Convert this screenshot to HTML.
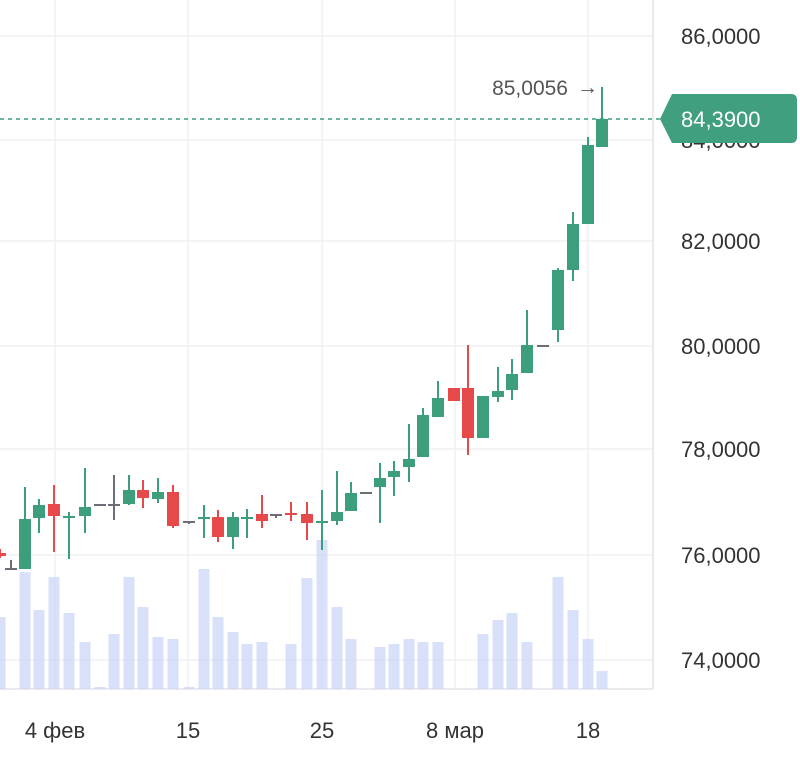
<!DOCTYPE html>
<html><head><meta charset="utf-8"><style>
html,body{margin:0;padding:0;background:#fff}
svg{display:block}
text{font-family:"Liberation Sans",sans-serif}
</style></head><body>
<svg width="800" height="769" viewBox="0 0 800 769" xmlns="http://www.w3.org/2000/svg">
<g stroke="#f0f0f3" stroke-width="1.5">
<line x1="0" y1="36" x2="653" y2="36"/><line x1="0" y1="140" x2="653" y2="140"/>
<line x1="0" y1="241" x2="653" y2="241"/><line x1="0" y1="346" x2="653" y2="346"/>
<line x1="0" y1="449" x2="653" y2="449"/><line x1="0" y1="555" x2="653" y2="555"/>
<line x1="0" y1="660" x2="653" y2="660"/>
<line x1="55" y1="0" x2="55" y2="689"/><line x1="188" y1="0" x2="188" y2="689"/>
<line x1="322" y1="0" x2="322" y2="689"/><line x1="455" y1="0" x2="455" y2="689"/>
<line x1="588" y1="0" x2="588" y2="689"/>
</g>
<line x1="653" y1="0" x2="653" y2="689" stroke="#e4e4e8" stroke-width="1.5"/>
<line x1="0" y1="689" x2="653" y2="689" stroke="#e4e4e8" stroke-width="1.5"/>
<g fill="#c9d3f8" fill-opacity="0.7" id="vol"></g>
<g id="c"></g>
<line x1="0" y1="119" x2="660" y2="119" stroke="#3f9f7e" stroke-width="1.5" stroke-dasharray="4,4"/>
<text x="568" y="95" font-size="21" fill="#555" text-anchor="end">85,0056</text>
<text x="598" y="94" font-size="21" fill="#555" text-anchor="end">→</text>
<g font-size="22" fill="#333">
<text x="681" y="44">86,0000</text><text x="681" y="148">84,0000</text>
<text x="681" y="249">82,0000</text><text x="681" y="354">80,0000</text>
<text x="681" y="457">78,0000</text><text x="681" y="563">76,0000</text>
<text x="681" y="668">74,0000</text>
</g>
<path d="M660,119 L672,94 L791,94 Q797,94 797,100 L797,137 Q797,143 791,143 L672,143 Z" fill="#3f9f7e"/>
<text x="681" y="127" font-size="22" fill="#fff">84,3900</text>
<g font-size="22" fill="#333" text-anchor="middle">
<text x="55" y="738">4 фев</text><text x="188" y="738">15</text><text x="322" y="738">25</text>
<text x="455" y="738">8 мар</text><text x="588" y="738">18</text>
</g>
</svg>
<script>
const NS="http://www.w3.org/2000/svg";
const vols=[[0,617],[25,572],[39,610],[54,577],[69,613],[85,642],[100,687],[114,634],[129,577],[143,607],[158,637],[173,639],[189,687],[204,569],[218,617],[233,632],[247,644],[262,642],[291,644],[307,578],[322,540],[337,607],[351,639],[380,647],[394,644],[409,639],[423,642],[438,642],[483,634],[498,620],[512,613],[527,642],[558,577],[573,610],[588,639],[602,671]];
const vg=document.getElementById('vol');
vols.forEach(([x,t])=>{const r=document.createElementNS(NS,'rect');r.setAttribute('x',x-5.5);r.setAttribute('y',t);r.setAttribute('width',11);r.setAttribute('height',689-t);vg.appendChild(r);});
const G="#3d9e7c",R="#e5494a",Y="#6d6d78";
const cs=[[0,553,556,549,558,R],[11,568,569,560,569,Y],[25,519,569,487,569,G],[39,505,518,499,533,G],[54,504,516,485,552,R],[69,516,518,512,559,G],[85,507,516,468,533,G],[100,504,506,504,506,Y],[114,504,506,475,520,Y],[129,490,504,475,505,G],[143,490,498,480,508,R],[158,492,499,478,503,G],[173,492,526,485,528,R],[189,521,523,521,524,Y],[204,517,519,505,538,G],[218,517,537,510,542,R],[233,517,537,512,549,G],[247,517,519,509,538,G],[262,514,521,495,528,R],[276,514,516,514,518,Y],[291,513,515,502,521,R],[307,514,523,502,540,R],[322,521,523,490,550,G],[337,512,521,471,525,G],[351,493,511,482,511,G],[366,492,494,492,494,Y],[380,478,487,463,523,G],[394,471,477,461,496,G],[409,459,467,424,482,G],[423,415,457,408,457,G],[438,398,417,381,417,G],[454,388,401,388,401,R],[468,388,438,345,455,R],[483,396,438,396,438,G],[498,391,397,367,402,G],[512,374,390,359,400,G],[527,345,373,310,373,G],[543,345,347,345,347,Y],[558,270,330,268,342,G],[573,224,270,212,281,G],[588,145,224,137,224,G],[602,119,147,87,147,G]];
const cg=document.getElementById('c');
cs.forEach(([x,bt,bb,wt,wb,c])=>{
 const l=document.createElementNS(NS,'line');l.setAttribute('x1',x);l.setAttribute('x2',x);l.setAttribute('y1',wt);l.setAttribute('y2',wb);l.setAttribute('stroke',c);l.setAttribute('stroke-width',2);cg.appendChild(l);
 const r=document.createElementNS(NS,'rect');r.setAttribute('x',x-6);r.setAttribute('y',bt);r.setAttribute('width',12);r.setAttribute('height',Math.max(2,bb-bt));r.setAttribute('fill',c);cg.appendChild(r);
});
</script>
</body></html>
